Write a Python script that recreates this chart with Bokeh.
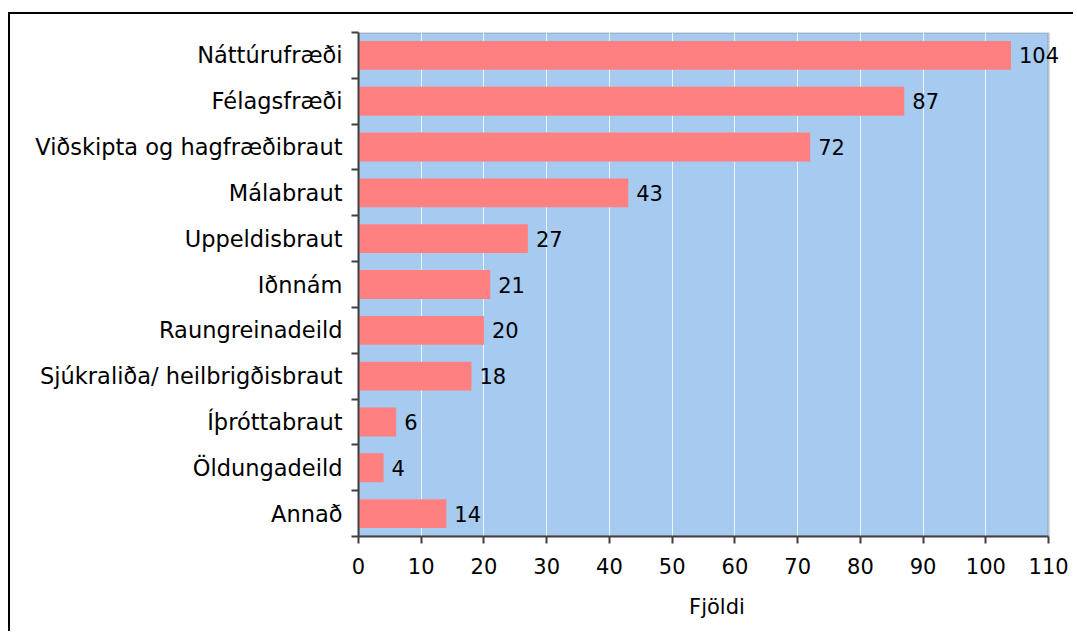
from bokeh.plotting import figure
from bokeh.models import ColumnDataSource, FixedTicker, LabelSet, BoxAnnotation
from bokeh.core.properties import value
from bokeh.embed import file_html
from bokeh.resources import INLINE

categories = ["Náttúrufræði", "Félagsfræði", "Viðskipta og hagfræðibraut", "Málabraut",
              "Uppeldisbraut", "Iðnnám", "Raungreinadeild", "Sjúkraliða/ heilbrigðisbraut",
              "Íþróttabraut", "Öldungadeild", "Annað"]
values = [104, 87, 72, 43, 27, 21, 20, 18, 6, 4, 14]
x_ticks = [0, 10, 20, 30, 40, 50, 60, 70, 80, 90, 100, 110]
x_label = "Fjöldi"

n = len(categories)
x_max = x_ticks[-1]
ypos = [n - 0.5 - i for i in range(n)]
src = ColumnDataSource(dict(cat=categories, val=values, y=ypos,
                            lbl=[str(v) for v in values]))

FONT = "DejaVu Sans"

# frame extends a little past the last tick so the value label of the longest bar is not clipped
p = figure(width=1065, height=619, output_backend="svg", toolbar_location=None,
           x_range=(0, x_max * 1.039), y_range=(0, n),
           min_border_left=348, min_border_right=0, min_border_top=18, min_border_bottom=97)
p.styles = {"margin-top": "12px", "margin-left": "8px",
            "border-top": "2px solid #000", "border-left": "2px solid #000"}

p.background_fill_color = "white"
p.border_fill_color = "white"
p.outline_line_color = None

plot_area = BoxAnnotation(left=0, right=x_max, fill_color="#A6CAF0", fill_alpha=1,
                          line_color="#808080", line_width=3, level="image")
p.add_layout(plot_area)

p.hbar(y="y", right="val", left=0, height=0.63, source=src,
       fill_color="#FF8080", line_color=None)

labels = LabelSet(x="val", y="y", text="lbl", source=src, x_offset=8,
                  text_baseline="middle", text_align="left",
                  text_font=value(FONT), text_font_size="21px", text_color="black")
p.add_layout(labels)

# x axis
p.xaxis.ticker = FixedTicker(ticks=x_ticks)
p.xaxis.bounds = (0, x_max)
p.xaxis.axis_label = x_label
p.xaxis.axis_label_text_font = FONT
p.xaxis.axis_label_text_font_size = "21px"
p.xaxis.axis_label_text_font_style = "normal"
p.xaxis.axis_label_text_color = "black"
p.xaxis.axis_label_standoff = 18
p.xaxis.major_label_text_font = FONT
p.xaxis.major_label_text_font_size = "21px"
p.xaxis.major_label_text_color = "black"
p.xaxis.major_label_standoff = 14
p.xaxis.major_tick_out = 7
p.xaxis.major_tick_in = 0
p.xaxis.minor_tick_line_color = None
p.xaxis.axis_line_width = 2
p.xaxis.axis_line_color = "#404040"
p.xaxis.major_tick_line_color = "#404040"
p.xaxis.major_tick_line_width = 2

# y axis: labels at centers, ticks at category boundaries
p.yaxis.ticker = FixedTicker(ticks=ypos, minor_ticks=list(range(n + 1)))
p.yaxis.major_label_overrides = {y: c for y, c in zip(ypos, categories)}
p.yaxis.major_label_text_font = FONT
p.yaxis.major_label_text_font_size = "22.5px"
p.yaxis.major_label_text_color = "black"
p.yaxis.major_label_standoff = 9
p.yaxis.major_tick_line_color = None
p.yaxis.major_tick_out = 7
p.yaxis.minor_tick_out = 7
p.yaxis.minor_tick_in = 0
p.yaxis.minor_tick_line_color = "#404040"
p.yaxis.minor_tick_line_width = 2
p.yaxis.axis_line_width = 2
p.yaxis.axis_line_color = "#404040"

p.xgrid.ticker = FixedTicker(ticks=x_ticks[1:-1])
p.xgrid.grid_line_color = "white"
p.xgrid.grid_line_alpha = 0.8
p.xgrid.grid_line_width = 1
p.xgrid.level = "underlay"
p.ygrid.grid_line_color = None

open("out.html", "w").write(file_html(p, INLINE))
